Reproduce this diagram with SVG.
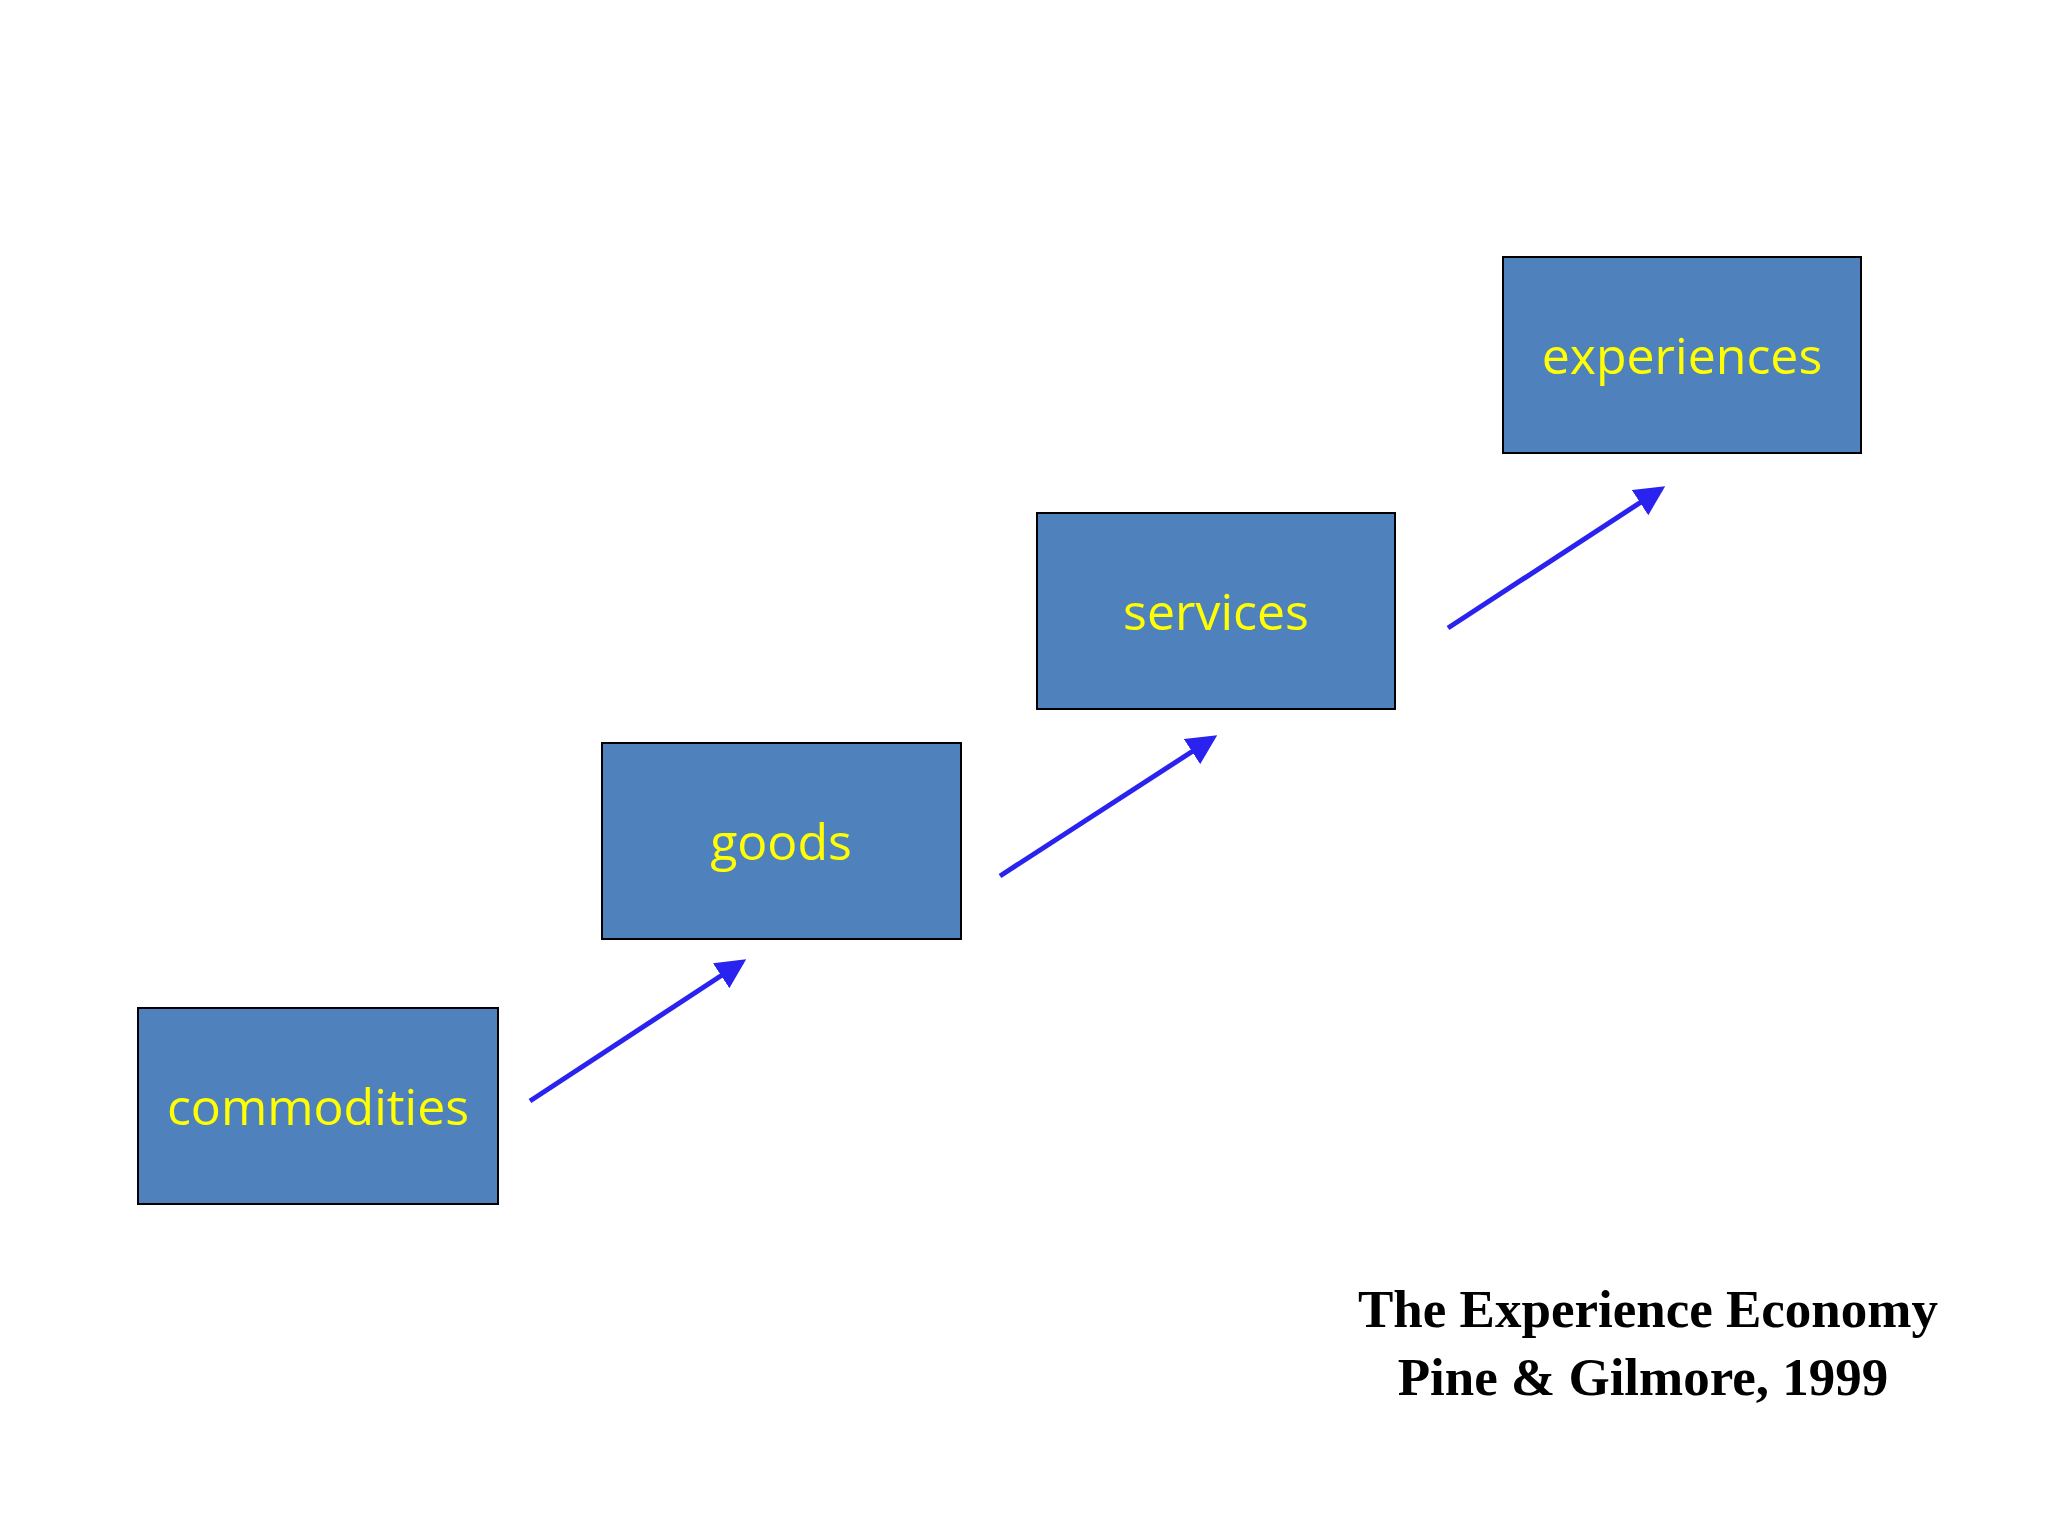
<svg xmlns="http://www.w3.org/2000/svg" width="2048" height="1536" viewBox="0 0 2048 1536">
<defs>
<marker id="ah" markerWidth="6" markerHeight="6" refX="5" refY="3" orient="auto" markerUnits="strokeWidth"><path d="M0,0 L6,3 L0,6 z" fill="#2a22ee"/></marker>
<style>
.box{fill:#4f81bd;stroke:#000;stroke-width:2}
.lbl{font-family:"Open Sans","Noto Sans",sans-serif;font-size:50px;fill:#ffff00;text-anchor:middle;dominant-baseline:central}
.arr{stroke:#2a22ee;stroke-width:5;fill:none;marker-end:url(#ah)}
.cap{font-family:"Liberation Serif",serif;font-weight:bold;font-size:53px;fill:#000;text-anchor:middle}
</style>
</defs>
<rect width="2048" height="1536" fill="#fff"/>
<g id="commodities"><rect class="box" x="138" y="1008" width="360" height="196"/><text class="lbl" x="318" y="1106">commodities</text></g>
<g id="goods"><rect class="box" x="602" y="743" width="359" height="196"/><text class="lbl" x="781" y="841">goods</text></g>
<g id="services"><rect class="box" x="1037" y="513" width="358" height="196"/><text class="lbl" x="1216" y="611">services</text></g>
<g id="experiences"><rect class="box" x="1503" y="257" width="358" height="196"/><text class="lbl" x="1682" y="355">experiences</text></g>
<g id="connectors">
<line class="arr" x1="530" y1="1101" x2="742" y2="962"/>
<line class="arr" x1="1000" y1="876" x2="1213" y2="738"/>
<line class="arr" x1="1448" y1="628" x2="1661" y2="489"/>
</g>
<g id="caption"><text class="cap" x="1648" y="1327">The Experience Economy</text><text class="cap" x="1643" y="1395">Pine &amp; Gilmore, 1999</text></g>
</svg>
